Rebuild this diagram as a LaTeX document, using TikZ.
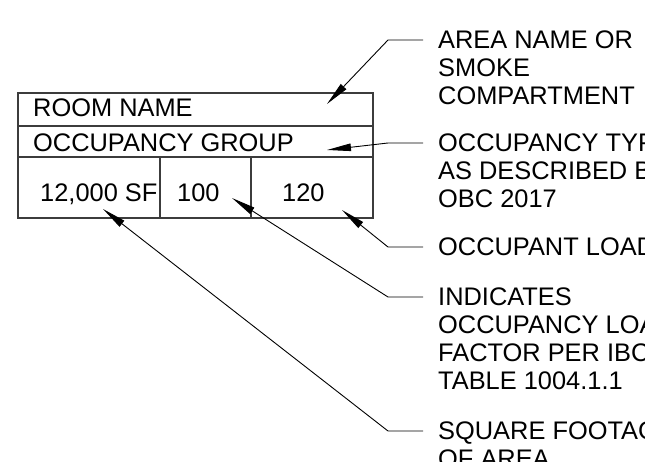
\documentclass[tikz,border=0pt]{standalone}
\usepackage{fontspec}
\setmainfont{Liberation Sans}
\definecolor{tagline}{RGB}{60, 60, 60}
\usepackage{tikz}
\usetikzlibrary{arrows.meta, positioning}

\begin{document}
\begin{tikzpicture}[x=1pt, y=1pt,
    tagtext/.style={inner sep=0pt, font=\fontsize{25.4}{28}\selectfont},
    notetext/.style={tagtext, anchor=north west, align=left},
    leader/.style={draw=black, line width=0.9pt, -{Triangle[length=24pt, width=7.5pt]}}]
  \clip (0,0) rectangle (645,-462);
  % Room tag
  \draw[tagline, line width=1.2pt] (18,-93) rectangle (373,-218);
  \draw[tagline, line width=1.2pt] (18,-126) -- (373,-126) (18,-157) -- (373,-157)
    (160,-157) -- (160,-218) (251,-157) -- (251,-218);
  \node[tagtext, anchor=base west] (room) at (33,-117) {ROOM NAME};
  \node[tagtext, anchor=base west] (group) at (33,-152) {OCCUPANCY GROUP};
  \node[tagtext, anchor=base west] (sf) at (40,-202) {12,000 SF};
  \node[tagtext, anchor=base west] (olf) at (177,-202) {100};
  \node[tagtext, anchor=base west] (load) at (282,-202) {120};

  % Notes
  \node[notetext] (area) at (438,-30.5) {AREA NAME OR\\SMOKE\\COMPARTMENT};
  \node[notetext] (occ) at (438,-133.5) {OCCUPANCY TYPE\\AS DESCRIBED BY\\OBC 2017};
  \node[notetext] (oload) at (438,-237.5) {OCCUPANT LOAD};
  \node[notetext] (factor) at (438,-287.5) {INDICATES\\OCCUPANCY LOAD\\FACTOR PER IBC\\TABLE 1004.1.1};
  \node[notetext] (sqft) at (438,-421.5) {SQUARE FOOTAGE\\OF AREA};

  % Leader tips inside the tag
  \coordinate (area-tip) at (327,-104);
  \coordinate (occ-tip) at (327,-150);
  \coordinate (oload-tip) at (342,-210);
  \coordinate (factor-tip) at (232,-198);
  \coordinate (sqft-tip) at (103,-209);

  \draw[leader] ([shift={(-15,-9.5)}]area.north west) -- ++(-35,0) -- (area-tip);
  \draw[leader] ([shift={(-15,-9.5)}]occ.north west) -- ++(-35,0) -- (occ-tip);
  \draw[leader] ([shift={(-15,-9.5)}]oload.north west) -- ++(-35,0) -- (oload-tip);
  \draw[leader] ([shift={(-15,-9.5)}]factor.north west) -- ++(-35,0) -- (factor-tip);
  \draw[leader] ([shift={(-15,-9.5)}]sqft.north west) -- ++(-35,0) -- (sqft-tip);
\end{tikzpicture}
\end{document}
